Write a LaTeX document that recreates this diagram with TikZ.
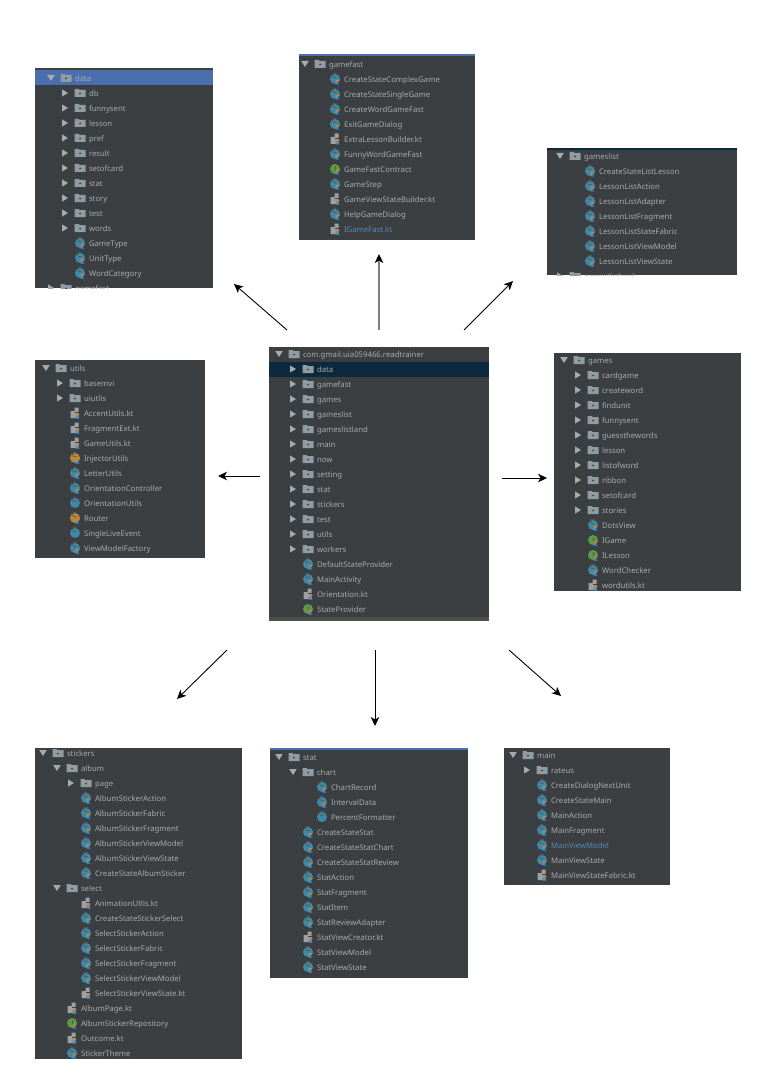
\documentclass[tikz,border=0pt]{standalone}
\usepackage{fontspec}
\setmainfont{Noto Sans}
\usetikzlibrary{arrows.meta}
\definecolor{pbg}{HTML}{3C3F41}
\definecolor{txt}{HTML}{A6ACB0}
\definecolor{bluetxt}{HTML}{5B88B5}
\definecolor{selblue}{HTML}{4B6EAF}
\definecolor{navy}{HTML}{0D293E}
\definecolor{fold}{HTML}{8F9CA3}
\definecolor{tri}{HTML}{A3ABAF}
\definecolor{teal}{HTML}{3F89A8}
\definecolor{ochre}{HTML}{B5893C}
\definecolor{igreen}{HTML}{5B9A48}
\definecolor{kor}{HTML}{E87A20}
\definecolor{kbl}{HTML}{2A9AE8}
\definecolor{fgrey}{HTML}{9AA2A6}
\definecolor{strip}{HTML}{4B524A}
\tikzset{
  panel/.style={fill=pbg,draw=none,inner sep=0pt,outer sep=0pt,anchor=north west},
  lbl/.style={anchor=base west,inner sep=0pt,outer sep=0pt,text=txt,font=\fontsize{7.75}{10}\selectfont},
  bluelbl/.style={lbl,text=bluetxt},
  link/.style={line width=0.9pt,-{Stealth[length=9pt,width=8.5pt,inset=2.5pt]}},
  greylink/.style={line width=1.5pt,draw=black!50,-{Stealth[length=9pt,width=8.5pt,inset=2.5pt,black]}}
}
\newcount\rowy
\newcount\rown
\newcommand\rowtext[3][lbl]{% x, text
  \global\advance\rown by 1
  \node[#1] (t\the\rown) at (#2+9,\rowy+3.2) {#3};}
\newcommand\nextrow{\global\advance\rowy by 15 }
\newcommand\folderat[1]{%
  \fill[fold] (#1-5.5,\rowy-4) -- (#1-1.5,\rowy-4) -- (#1-.5,\rowy-3) -- (#1+5.5,\rowy-3) -- (#1+5.5,\rowy+4) -- (#1-5.5,\rowy+4) -- cycle;
  \fill[pbg] (#1,\rowy+.5) circle (1);}
\newcommand\Fc[2]{% closed folder
  \fill[tri] (#1-18,\rowy-3.6) -- (#1-12,\rowy) -- (#1-18,\rowy+3.6) -- cycle;
  \folderat{#1}\rowtext{#1}{#2}\nextrow}
\newcommand\Fo[2]{% open folder
  \fill[tri] (#1-18.8,\rowy-3) -- (#1-11.2,\rowy-3) -- (#1-15,\rowy+3) -- cycle;
  \folderat{#1}\rowtext{#1}{#2}\nextrow}
\newcommand\kmark[1]{%
  \fill[kor] (#1+.5,\rowy+1) -- (#1+5,\rowy+1) -- (#1+.5,\rowy+4) -- cycle;
  \fill[kbl] (#1+.5,\rowy+5.5) -- (#1+.5,\rowy+3.6) -- (#1+3,\rowy+2.2) -- (#1+2,\rowy+3.8) -- (#1+4.5,\rowy+5.5) -- cycle;}
\newcommand\cletter[1]{%
  \draw[black!65,line width=.8pt] (#1+1.6,\rowy-1.8) arc (48:312:2.4);}
\newcommand\Cl[3][teal]{% class icon with Kotlin mark
  \fill[#1] (#2,\rowy) circle (5);
  \cletter{#2}
  \kmark{#2}\rowtext{#2}{#3}\nextrow}
\newcommand\Cp[2]{% plain class icon
  \fill[teal] (#1,\rowy) circle (5);
  \cletter{#1}
  \rowtext{#1}{#2}\nextrow}
\newcommand\If[2]{% interface icon
  \fill[igreen] (#1,\rowy) circle (5);
  \fill[black!65] (#1-.5,\rowy-3) rectangle (#1+.5,\rowy+2);
  \kmark{#1}\rowtext{#1}{#2}\nextrow}
\newcommand\Kf[3][lbl]{% Kotlin file icon
  \fill[fgrey] (#2-4.5,\rowy-2) -- (#2-.5,\rowy-2) -- (#2-.5,\rowy-5.5) -- (#2+3.5,\rowy-5.5) -- (#2+3.5,\rowy+5) -- (#2-4.5,\rowy+5) -- cycle;
  \fill[pbg] (#2-.5,\rowy-.8) rectangle (#2+3.5,\rowy);
  \kmark{#2}\rowtext[#1]{#2}{#3}\nextrow}
\newcommand\Pnl[5]{% name x1 y1 x2 y2
  \node[panel,minimum width={(#4-#2)*1pt},minimum height={(#5-#3)*1pt}] (#1) at (#2,#3) {};}
\begin{document}
\begin{tikzpicture}[x=1pt,y=-1pt]
\useasboundingbox (0,0) rectangle (781,1086);
\fill[white] (0,0) rectangle (781,1086);

% data
\Pnl{pdata}{35}{68}{213}{288}
\begin{scope}
\clip (35,68) rectangle (213,288);
\fill[black!75] (35,68) rectangle (213,70);
\fill[selblue] (35,70) rectangle (213,85);
\rowy=78
\Fo{66}{data}
\Fc{80}{db}\Fc{80}{funnysent}\Fc{80}{lesson}\Fc{80}{pref}\Fc{80}{result}
\Fc{80}{setofcard}\Fc{80}{stat}\Fc{80}{story}\Fc{80}{test}\Fc{80}{words}
\Cl{80}{GameType}\Cl{80}{UnitType}\Cl{80}{WordCategory}
\Fc{66}{gamefast}
\end{scope}

% gamefast
\Pnl{pfast}{299}{54}{475}{240}
\begin{scope}
\clip (299,54) rectangle (475,240);
\fill[selblue] (299,54) rectangle (475,56.5);
\rowy=64
\Fo{320}{gamefast}
\Cl{335}{CreateStateComplexGame}\Cl{335}{CreateStateSingleGame}\Cl{335}{CreateWordGameFast}
\Cl{335}{ExitGameDialog}\Kf{335}{ExtraLessonBuilder.kt}\Cl{335}{FunnyWordGameFast}
\If{335}{GameFastContract}\Cl{335}{GameStep}\Kf{335}{GameViewStateBuilder.kt}
\Cl{335}{HelpGameDialog}\Kf[bluelbl]{335}{IGameFast.kt}
\end{scope}

% gameslist
\Pnl{plist}{547}{148}{737}{275}
\begin{scope}
\clip (547,148) rectangle (737,275);
\fill[navy] (547,148) rectangle (737,150);
\rowy=156
\Fo{575}{gameslist}
\Cl{590}{CreateStateListLesson}\Cl{590}{LessonListAction}\Cl{590}{LessonListAdapter}
\Cl{590}{LessonListFragment}\Cl{590}{LessonListStateFabric}\Cl{590}{LessonListViewModel}
\Cl{590}{LessonListViewState}
\Fc{575}{gameslistland}
\end{scope}

% utils
\Pnl{putils}{35}{360}{205}{558}
\begin{scope}
\clip (35,360) rectangle (205,558);
\rowy=368
\Fo{61}{utils}
\Fc{75}{basemvi}\Fc{75}{uiutlis}
\Kf{75}{AccentUtils.kt}\Kf{75}{FragmentExt.kt}\Kf{75}{GameUtils.kt}
\Cl[ochre]{75}{InjectorUtils}\Cl{75}{LetterUtils}\Cl{75}{OrientationController}
\Cp{75}{OrientationUtils}\Cl[ochre]{75}{Router}\Cp{75}{SingleLiveEvent}\Cl{75}{ViewModelFactory}
\end{scope}

% root
\Pnl{proot}{269}{347}{489}{621}
\begin{scope}
\clip (269,347) rectangle (489,621);
\fill[navy] (269,362) rectangle (489,377);
\fill[strip] (269,617) rectangle (489,621);
\rowy=354
\Fo{294}{com.gmail.uia059466.readtrainer}
\Fc{308}{data}\Fc{308}{gamefast}\Fc{308}{games}\Fc{308}{gameslist}\Fc{308}{gameslistland}
\Fc{308}{main}\Fc{308}{now}\Fc{308}{setting}\Fc{308}{stat}\Fc{308}{stickers}
\Fc{308}{test}\Fc{308}{utils}\Fc{308}{workers}
\Cl{308}{DefaultStateProvider}\Cl{308}{MainActivity}\Kf{308}{Orientation.kt}\If{308}{StateProvider}
\end{scope}

% games
\Pnl{pgames}{554}{353}{741}{591}
\begin{scope}
\clip (554,353) rectangle (741,591);
\rowy=360
\Fo{579}{games}
\Fc{593}{cardgame}\Fc{593}{createword}\Fc{593}{findunit}\Fc{593}{funnysent}\Fc{593}{guessthewords}
\Fc{593}{lesson}\Fc{593}{listofword}\Fc{593}{ribbon}\Fc{593}{setofcard}\Fc{593}{stories}
\Cl{593}{DotsView}\If{593}{IGame}\If{593}{ILesson}\Cl{593}{WordChecker}\Kf{593}{wordutils.kt}
\end{scope}

% stickers
\Pnl{pstick}{35}{748}{242}{1059}
\begin{scope}
\clip (35,748) rectangle (242,1059);
\rowy=753
\Fo{58}{stickers}
\Fo{72}{album}
\Fc{86}{page}
\Cl{86}{AlbumStickerAction}\Cl{86}{AlbumStickerFabric}\Cl{86}{AlbumStickerFragment}
\Cl{86}{AlbumStickerViewModel}\Cl{86}{AlbumStickerViewState}\Cl{86}{CreateStateAlbumSticker}
\Fo{72}{select}
\Kf{86}{AnimationUtlis.kt}\Cl{86}{CreateStateStickerSelect}\Cl{86}{SelectStickerAction}
\Cl{86}{SelectStickerFabric}\Cl{86}{SelectStickerFragment}\Cl{86}{SelectStickerViewModel}
\Kf{86}{SelectStickerViewState.kt}
\Kf{72}{AlbumPage.kt}\If{72}{AlbumStickerRepository}\Kf{72}{Outcome.kt}\Cl{72}{StickerTheme}
\end{scope}

% stat
\Pnl{pstat}{270}{748}{468}{978}
\begin{scope}
\clip (270,748) rectangle (468,978);
\fill[selblue] (270,748) rectangle (468,750);
\rowy=757
\Fo{294}{stat}
\Fo{308}{chart}
\Cl{322}{ChartRecord}\Cl{322}{IntervalData}\Cp{322}{PercentFormatter}
\Cl{308}{CreateStateStat}\Cl{308}{CreateStateStatChart}\Cl{308}{CreateStateStatReview}
\Cl{308}{StatAction}\Cl{308}{StatFragment}\Cl{308}{StatItem}\Cl{308}{StatReviewAdapter}
\Kf{308}{StatViewCreator.kt}\Cl{308}{StatViewModel}\Cl{308}{StatViewState}
\end{scope}

% main
\Pnl{pmain}{504}{748}{670}{885}
\begin{scope}
\clip (504,748) rectangle (670,885);
\rowy=755
\Fo{528}{main}
\Fc{542}{rateus}
\Cl{542}{CreateDialogNextUnit}\Cl{542}{CreateStateMain}\Cl{542}{MainAction}\Cl{542}{MainFragment}
\fill[teal] (542,\rowy) circle (5);
\cletter{542}
\kmark{542}\rowtext[bluelbl]{542}{MainViewModel}\nextrow
\Cl{542}{MainViewState}\Kf{542}{MainViewStateFabric.kt}
\end{scope}

% connector ends
\coordinate (a1s) at (287,330); \coordinate (a1e) at (234,284);
\coordinate (a2s) at (379,330); \coordinate (a2e) at (379,254);
\coordinate (a3s) at (464,330); \coordinate (a3e) at (513,281);
\coordinate (a4s) at (260,476); \coordinate (a4e) at (218,476);
\coordinate (a5s) at (502,478); \coordinate (a5e) at (547,478);
\coordinate (a6s) at (227,650); \coordinate (a6e) at (177,699);
\coordinate (a7s) at (375,650); \coordinate (a7e) at (375,726);
\coordinate (a8s) at (509,650); \coordinate (a8e) at (561,696);
\draw[link] (a1s) -- (a1e);
\draw[greylink] (a2s) -- (a2e);
\draw[link] (a3s) -- (a3e);
\draw[link] (a4s) -- (a4e);
\draw[link] (a5s) -- (a5e);
\draw[link] (a6s) -- (a6e);
\draw[link] (a7s) -- (a7e);
\draw[link] (a8s) -- (a8e);
\end{tikzpicture}
\end{document}
